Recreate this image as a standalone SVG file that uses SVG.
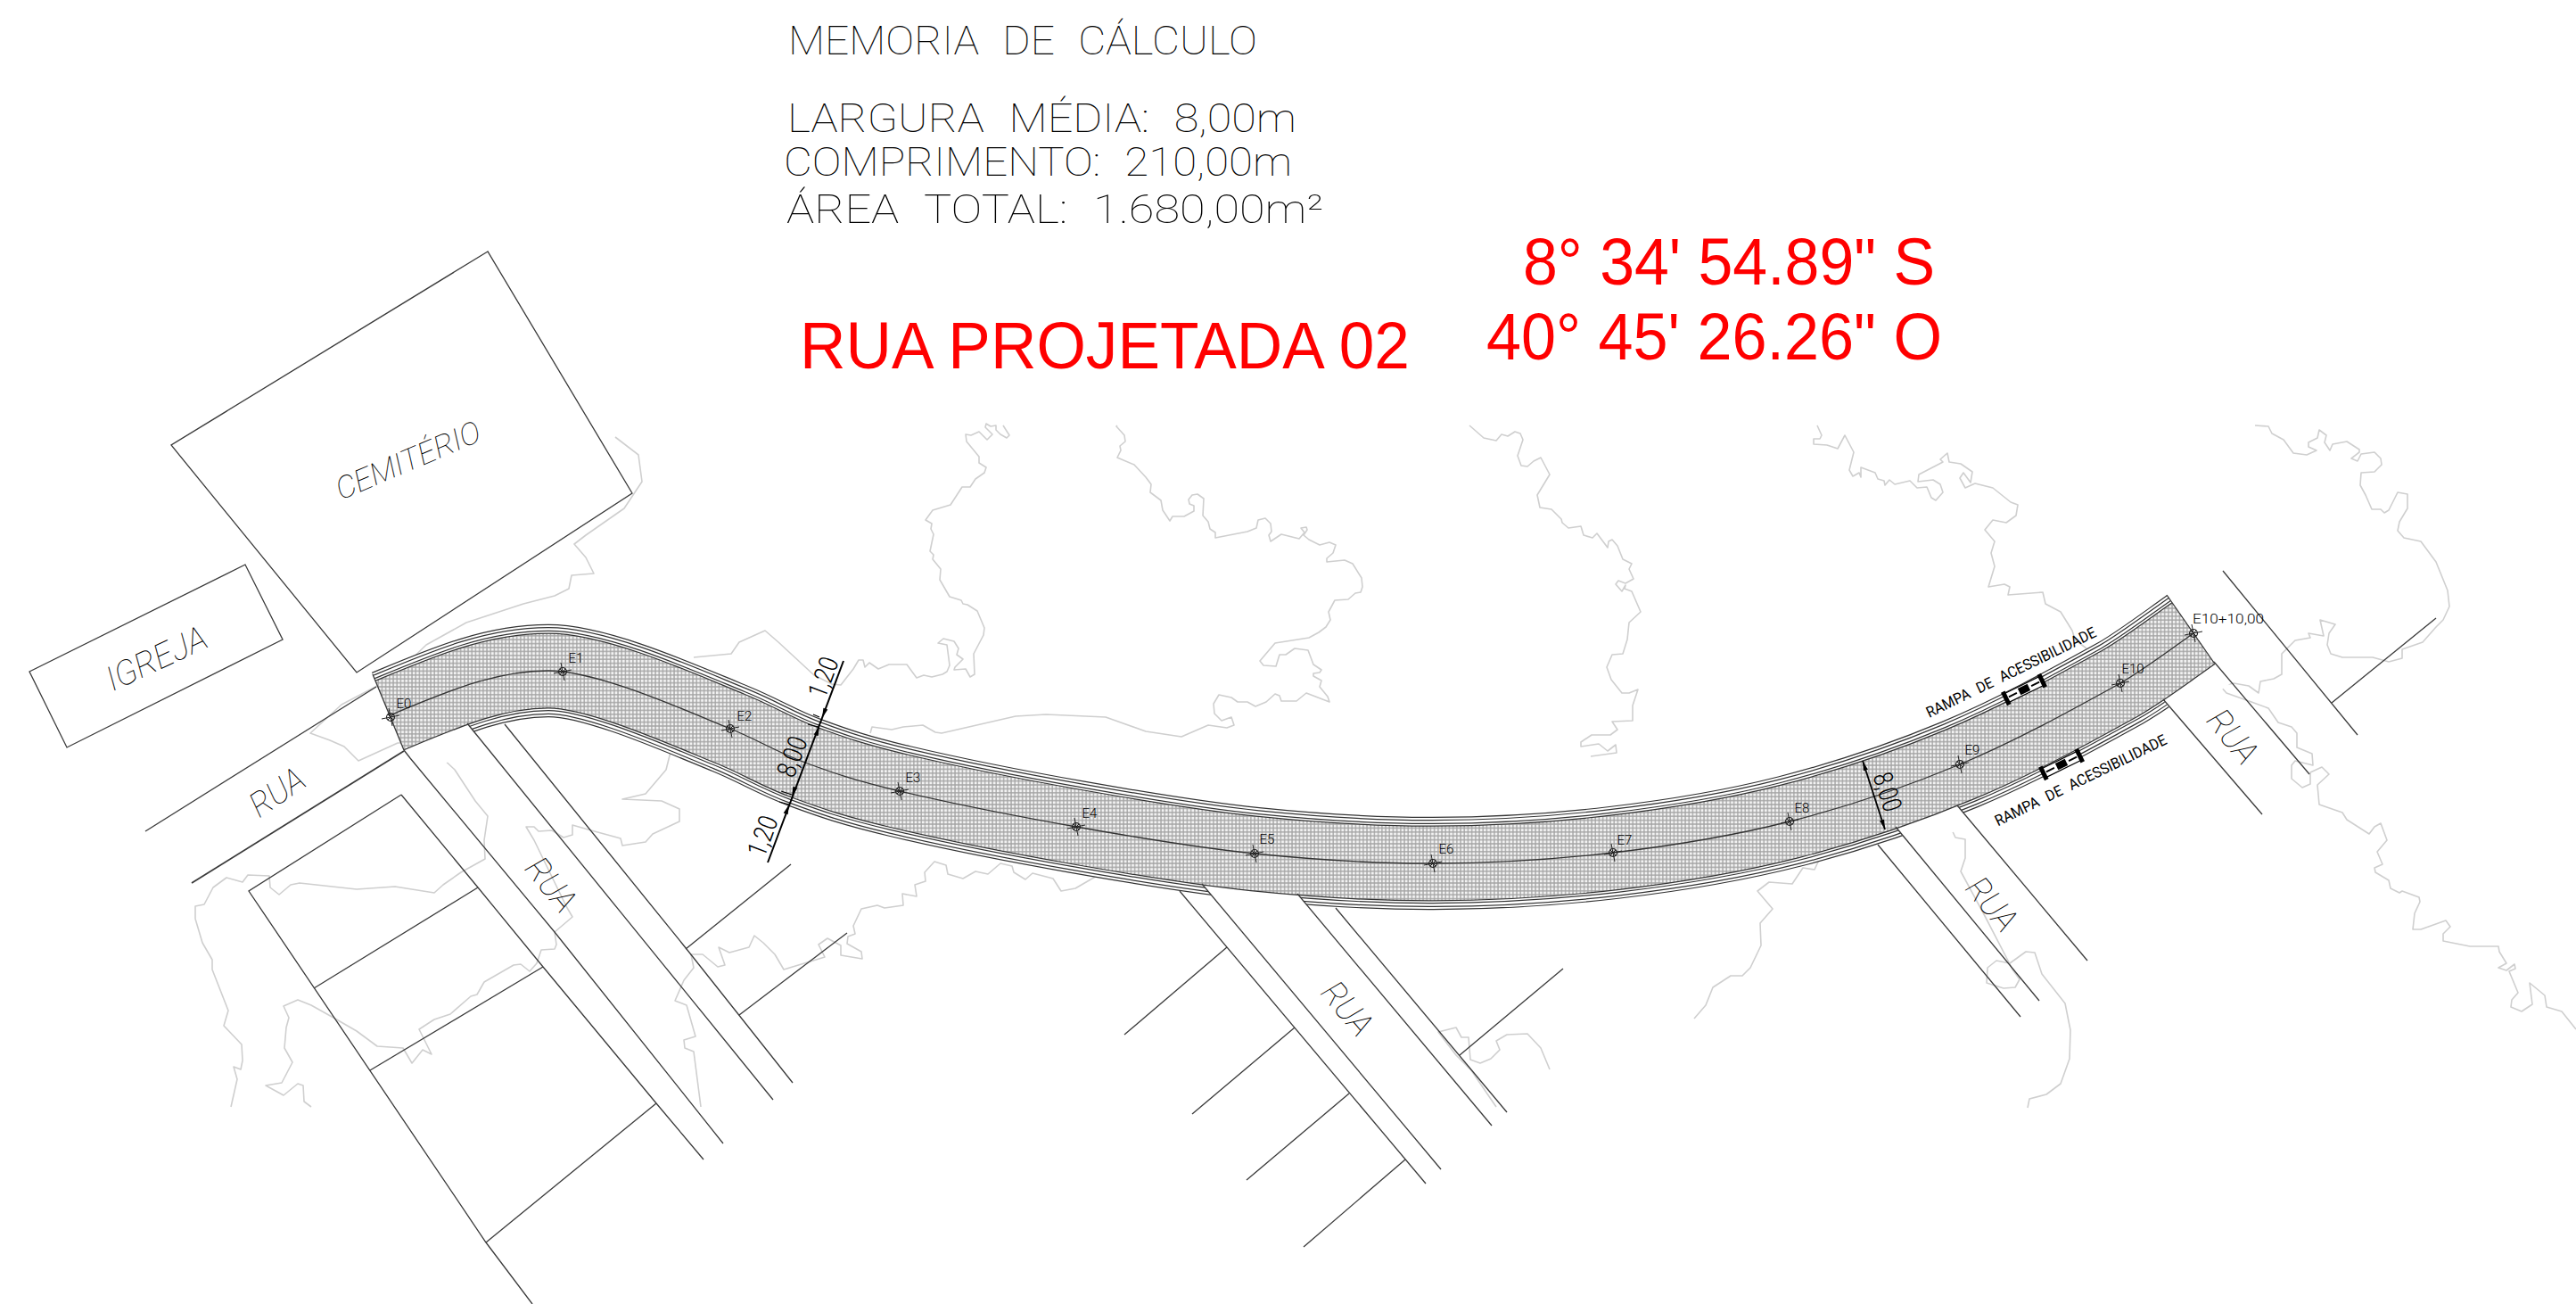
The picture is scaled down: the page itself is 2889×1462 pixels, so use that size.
<svg xmlns="http://www.w3.org/2000/svg" width="2889" height="1462" viewBox="0 0 2889 1462">
<style>
text{font-family:"Roboto","Liberation Sans",sans-serif;font-weight:100;fill:#000}
.cad{font-style:italic;text-anchor:middle}
.red{font-family:"Liberation Sans",Arial,sans-serif;font-weight:400;fill:#f00;font-size:74px}
.memo{font-size:45px;word-spacing:14px}
.st{font-size:15px;text-anchor:middle;font-weight:300}
.dim{font-size:30px;text-anchor:middle;font-weight:300}
.ramp{font-size:17px;text-anchor:middle;font-weight:400;word-spacing:6px}
.ter{fill:none;stroke:#cfcfcf;stroke-width:1.6;stroke-linejoin:round}
.ln{fill:none;stroke:#3a3a3a;stroke-width:1.3}
.rd{fill:none}
</style>
<defs>
<pattern id="hatch" patternUnits="userSpaceOnUse" width="4.2" height="4.4">
<rect width="4.2" height="4.4" fill="#a4a4a4"/><rect x="0.7" y="0.7" width="2.9" height="3" fill="#f2f2f2"/>
</pattern>
<g id="sta"><circle r="4.5" fill="none" stroke="#222" stroke-width="1.1"/><path d="M-2 -10L2 10M-10 2L10 -2M-3 -3L3 3M-3 3L3 -3" stroke="#222" stroke-width="1" fill="none"/></g>
<path id="ah" d="M0 0L-11 -2.6L-11 2.6Z" fill="#000"/>
<g id="ramp"><rect x="-22" y="-5.5" width="44" height="11" fill="#fff" stroke="#000" stroke-width="1.2"/><rect x="-25" y="-8" width="5" height="16" fill="#000"/><rect x="20" y="-8" width="5" height="16" fill="#000"/><rect x="-6" y="-4" width="12" height="8" fill="#000"/><path d="M-19 0H-9M9 0H19" stroke="#000" stroke-width="2"/></g>
<path id="cl" d="M437 802C502 775 555 752 615 752C670 752 765 795 819 817C852 830.5 871.3 843.3 903 855C934.7 866.7 958.3 875 1009 887C1059.7 899 1140.7 915.3 1207 927C1273.3 938.7 1340.3 950.2 1407 957C1473.7 963.8 1540 968.2 1607 968C1674 967.8 1742.3 963.8 1809 956C1875.7 948.2 1942.2 937.5 2007 921C2071.8 904.5 2136.2 882.8 2198 857C2259.8 831.2 2320 798 2378 766C2404 751 2433 729 2460 710"/>
</defs>
<rect width="2889" height="1462" fill="#fff"/>
<g id="terrain">
<path class="ter" d="M1125 477L1132 488L1129 491L1122 487L1117 482L1117 477L1111 478L1106 475L1105 479L1113 487L1107 493L1098 484L1089 488L1083 487L1084 495L1098 512L1098 519L1106 524L1104 530L1094 537L1088 546L1079 546L1066 566L1046 572L1038 583L1045 587L1044 593L1047 599L1043 618L1047 622L1046 627L1055 638L1054 650L1065 669L1078 673L1080 677L1085 678L1096 685L1104 704L1103 712L1092 733L1093 756L1088 759L1083 750L1070 751L1071 748L1080 739L1073 734L1075 727L1070 719L1058 716L1052 721L1062 723L1065 746L1062 753L1057 756L1045 759L1036 757L1028 760L1017 745L997 745L985 750L975 743L970 748L968 740L963 740L957 750L943 768L933 767L913 757L873 720L858 707L829 720L820 733L778 737"/>
<path class="ter" d="M1253 477L1252 478L1261 488L1262 495L1256 500L1257 505L1253 513L1272 521L1285 535L1291 543L1290 552L1302 561L1304 572L1312 584L1315 579L1328 579L1339 573L1339 567L1334 565L1333 560L1337 555L1343 554L1350 559L1349 578L1355 585L1357 593L1363 597L1363 603L1399 596L1409 592L1411 583L1419 581L1425 587L1426 596L1423 600L1425 607L1437 599L1457 604L1463 597L1459 592L1465 591L1466 594L1462 600L1468 605L1480 611L1491 608L1498 611L1495 620L1488 626L1488 630L1508 628L1517 632L1527 648L1528 658L1526 664L1520 665L1512 672L1497 673L1490 686L1492 695L1487 703L1479 709L1468 715L1430 721L1413 741L1417 746L1431 747L1435 734L1442 734L1452 727L1467 729L1473 745L1482 751L1480 754L1473 755L1473 758L1482 763L1480 770L1489 781L1491 787L1465 777L1454 786L1437 786L1435 780L1430 778L1420 787L1408 792L1399 787L1388 787L1381 782L1367 779L1361 789L1362 800L1370 808L1381 804L1384 813L1376 816L1355 813L1325 826L1285 820L1240 804L1173 801L1139 803L1056 822L1049 821L1035 813L1013 815L1000 818L978 815L976 822"/>
<path class="ter" d="M1648 477L1664 491L1678 494L1684 487L1691 489L1699 484L1705 486L1708 493L1702 511L1706 522L1713 523L1720 517L1728 513L1738 532L1724 555L1727 569L1740 571L1751 582L1752 586L1759 592L1773 590L1776 600L1786 603L1791 598L1803 614L1804 607L1808 605L1814 612L1820 627L1830 632L1827 638L1832 649L1823 654L1815 651L1812 655L1819 663L1823 656L1822 660L1830 663L1840 686L1827 698L1825 717L1820 733L1808 734L1802 748L1807 762L1819 777L1827 777L1837 773L1831 791L1831 808L1808 809L1814 818L1806 824L1785 824L1773 832L1773 837L1793 834L1803 842L1812 835L1813 844L1784 848"/>
<path class="ter" d="M2038 477L2043 488L2041 492L2034 492L2034 498L2049 499L2061 503L2069 488L2079 507L2074 527L2078 534L2085 530L2087 535L2087 524L2103 530L2106 537L2113 539L2114 544L2119 538L2125 543L2142 539L2150 547L2161 546L2166 558L2171 561L2179 552L2176 543L2168 538L2151 540L2152 532L2179 518L2176 515L2184 508L2186 518L2199 520L2212 529L2210 541L2202 530L2198 536L2204 547L2215 542L2235 547L2255 563L2263 566L2261 578L2250 586L2235 583L2226 594L2237 607L2233 620L2237 635L2230 658L2248 655L2254 658L2252 667L2291 664L2294 677L2311 686L2324 707L2327 717L2340 727"/>
<path class="ter" d="M2529 477L2544 478L2548 486L2561 493L2572 508L2587 510L2598 505L2589 501L2589 496L2599 491L2601 482L2609 488L2607 496L2613 505L2616 498L2632 495L2646 504L2646 507L2637 514L2644 517L2648 509L2663 507L2670 514L2671 521L2663 529L2648 530L2647 544L2653 555L2660 571L2670 571L2674 575L2679 572L2689 552L2700 554L2700 570L2691 585L2689 595L2696 603L2715 607L2732 630L2745 662L2747 680L2740 695L2732 703L2717 720L2694 728L2694 738L2679 742L2661 737L2627 737L2614 733L2610 723L2612 710L2619 700L2602 695L2606 713L2589 710L2591 715L2574 718L2559 733L2559 756L2550 761L2535 764L2533 777L2522 769L2505 766L2490 769L2497 777L2525 787L2544 794L2555 810L2570 815L2576 822L2576 838L2593 845L2594 858L2574 853L2570 858L2570 873L2582 883L2591 879L2591 866L2604 860L2612 868L2599 880L2601 902L2627 911L2632 919L2657 935L2663 927L2670 923L2677 942L2666 955L2672 969L2663 973L2664 978L2679 987L2681 996L2691 1001L2694 999L2713 1006L2714 1011L2708 1024L2706 1042L2715 1042L2743 1032L2748 1039L2740 1047L2740 1055L2770 1061L2802 1061L2803 1067L2811 1080L2802 1085L2811 1088L2820 1081L2821 1086L2814 1089L2824 1113L2817 1121L2816 1129L2828 1134L2840 1126L2837 1102L2854 1116L2856 1129L2873 1134L2889 1154"/>
<path class="ter" d="M2155 920L2178 930L2187 926L2193 939L2204 941L2204 962L2199 977L2226 1027L2252 1077L2257 1087L2265 1098L2260 1107L2247 1108L2228 1102L2229 1085L2239 1077L2244 1078L2254 1080L2272 1067L2282 1068L2290 1092L2316 1125L2322 1155L2321 1187L2311 1215L2295 1227L2276 1232L2274 1242"/>
<path class="ter" d="M2045 953L2035 975L2022 973L2010 991L1984 989L1971 999L1988 1019L1974 1035L1975 1060L1963 1085L1954 1094L1941 1094L1921 1107L1913 1127L1900 1142"/>
<path class="ter" d="M1678 1241L1650 1200L1633 1183L1613 1157L1633 1152L1639 1163L1647 1163L1649 1188L1660 1192L1672 1187L1682 1177L1678 1167L1690 1160L1713 1159L1728 1175L1738 1199"/>
<path class="ter" d="M1237 978L1206 996L1190 999L1181 985L1158 979L1150 986L1137 978L1135 971L1122 968L1108 980L1094 977L1080 985L1063 980L1061 970L1048 966L1037 978L1038 988L1026 992L1028 1005L1012 1002L1013 1015L992 1018L984 1015L966 1019L957 1038L959 1047L951 1050L950 1058L966 1067L967 1075L943 1071L943 1060L928 1052L918 1059L925 1073L879 1087L869 1070L856 1057L846 1049L840 1062L818 1068L806 1062L813 1082L805 1084L788 1070L775 1070L778 1085L767 1099L757 1122L770 1127L780 1162L767 1166L768 1175L778 1179L786 1241"/>
<path class="ter" d="M752 843L747 863L724 890L698 896L742 898L762 907L762 921L732 935L724 944L698 948L696 940L663 931L642 925L642 936L632 939L619 931L604 932L599 927L590 927L599 942L635 1016L642 1028L622 1045L624 1059L622 1064L607 1065L602 1080L594 1089L584 1081L576 1082L543 1101L535 1115L528 1117L505 1137L487 1143L470 1154L484 1182L474 1177L462 1192L452 1175L423 1173L400 1156L374 1141L349 1127L334 1121L318 1128L324 1141L321 1152L319 1175L328 1191L316 1214L298 1217L318 1228L334 1215L340 1217L341 1235L349 1241"/>
<path class="ter" d="M690 490L716 510L720 540L700 570L657 600L644 610L657 625L666 643L641 645L638 660L622 668L587 677L523 698L478 723L440 760L383 790L348 822L370 830L386 837L402 853L446 833L478 833L510 863L533 898L547 915L543 942L544 963L517 978L497 992L487 1001L443 994L400 997L336 990L326 992L313 1003L303 995L302 982L278 981L272 989L254 984L239 995L229 1014L219 1016L219 1030L227 1057L238 1076L238 1087L256 1133L251 1150L271 1171L272 1189L270 1199L262 1196L266 1210L259 1241"/>
</g>
<g id="sidewalks">
<use href="#cl" class="rd" stroke="#333" stroke-width="104.4"/>
<use href="#cl" class="rd" stroke="#fff" stroke-width="102"/>
<use href="#cl" class="rd" stroke="#333" stroke-width="98"/>
<use href="#cl" class="rd" stroke="#fff" stroke-width="95.6"/>
<use href="#cl" class="rd" stroke="#333" stroke-width="90.4"/>
<use href="#cl" class="rd" stroke="#fff" stroke-width="88"/>
</g>
<g id="street-openings" fill="#fff">
<polygon points="510,794 548,841 450,870 440,840"/>
<polygon points="1340,981 1366,1013 1473,1024 1445,990"/>
<polygon points="2118,917 2140,945 2215,927 2187,893"/>
<polygon points="2415,773 2445,807 2510,760 2475,725"/>
</g>
<g id="pavement">
<use href="#cl" class="rd" stroke="#333" stroke-width="85"/>
<use href="#cl" class="rd" stroke="url(#hatch)" stroke-width="82.6"/>
<use href="#cl" class="rd" stroke="#333" stroke-width="1.3"/>
</g>
<g id="linework" class="ln">
<path d="M547 282L192 499L400 754L709 553Z"/>
<path d="M275 633L33 753L75 838L317 717Z"/>
<path d="M418 756L453 841"/><path d="M2430 667L2483 743"/>
<path d="M163 932L422 770"/><path d="M215 990L453 842" stroke-width="1.8"/>
<path d="M450 891L279 999L545 1393L597 1462"/><path d="M450 891L536 995L609 1084L736 1237L789 1300"/>
<path d="M453 841L460 850L622 1045L811 1282"/>
<path d="M524 811L867 1233"/><path d="M566 812L770 1064L889 1214"/>
<path d="M536 995L352 1108"/><path d="M609 1084L415 1200"/><path d="M736 1237L545 1393"/>
<path d="M769 1064L887 969"/><path d="M829 1138L950 1046"/>
<path d="M1323 999L1599 1327"/><path d="M1348 991L1616 1311"/><path d="M1455 1002L1673 1262"/><path d="M1498 1018L1690 1247"/>
<path d="M1376 1062L1261 1160"/><path d="M1452 1152L1337 1249"/><path d="M1513 1226L1398 1323"/><path d="M1576 1300L1462 1398"/><path d="M1637 1183L1753 1086"/>
<path d="M2106 947L2266 1140"/><path d="M2126 927L2287 1122"/><path d="M2195 903L2341 1077"/>
<path d="M2426 784L2537 913"/><path d="M2483 742L2590 868"/><path d="M2493 640L2644 824"/><path d="M2615 788L2732 693"/>
</g>
<g id="stations">
<use href="#sta" x="438" y="804"/><use href="#sta" x="631" y="753"/><use href="#sta" x="819" y="817"/><use href="#sta" x="1009" y="887"/><use href="#sta" x="1207" y="927"/><use href="#sta" x="1407" y="957"/><use href="#sta" x="1607" y="968"/><use href="#sta" x="1809" y="956"/><use href="#sta" x="2007" y="921"/><use href="#sta" x="2198" y="857"/><use href="#sta" x="2378" y="766"/><use href="#sta" x="2460" y="710"/>
<text class="st" x="453" y="794">E0</text><text class="st" x="646" y="743">E1</text><text class="st" x="835" y="808">E2</text><text class="st" x="1024" y="877">E3</text><text class="st" x="1222" y="917">E4</text><text class="st" x="1421" y="946">E5</text><text class="st" x="1622" y="957">E6</text><text class="st" x="1822" y="947">E7</text><text class="st" x="2021" y="911">E8</text><text class="st" x="2212" y="846">E9</text><text class="st" x="2392" y="755">E10</text><text class="st" x="2499" y="699" textLength="80" lengthAdjust="spacingAndGlyphs">E10+10,00</text>
</g>
<g id="ramps">
<use href="#ramp" transform="translate(2270 773) rotate(-26)"/>
<use href="#ramp" transform="translate(2312 857) rotate(-26)"/>
<text class="ramp" transform="translate(2258 759) rotate(-26)" textLength="210" lengthAdjust="spacingAndGlyphs">RAMPA DE ACESSIBILIDADE</text>
<text class="ramp" transform="translate(2336 880) rotate(-26)" textLength="212" lengthAdjust="spacingAndGlyphs">RAMPA DE ACESSIBILIDADE</text>
</g>
<g id="dimensions">
<path d="M946 741L861 967" stroke="#000" stroke-width="2" fill="none"/>
<path d="M912 801L919 804M906 812L918 815M876 887L888 891M874 899L885 902" stroke="#000" stroke-width="1.2" fill="none"/>
<use href="#ah" transform="translate(922 805) rotate(110.6)"/><use href="#ah" transform="translate(919 814) rotate(-69.4)"/><use href="#ah" transform="translate(888 893) rotate(110.6)"/><use href="#ah" transform="translate(885 902) rotate(-69.4)"/>
<text class="dim" transform="translate(933 763) rotate(-69.4)" textLength="46" lengthAdjust="spacingAndGlyphs">1,20</text>
<text class="dim" transform="translate(865 941) rotate(-69.4)" textLength="46" lengthAdjust="spacingAndGlyphs">1,20</text>
<text class="dim" transform="translate(898 852) rotate(-69.4)" textLength="46" lengthAdjust="spacingAndGlyphs">8,00</text>
<path d="M2089 853L2114 930" stroke="#000" stroke-width="1.8" fill="none"/>
<use href="#ah" transform="translate(2089 853) rotate(-108)"/><use href="#ah" transform="translate(2114 930) rotate(72)"/>
<text class="dim" transform="translate(2107 891) rotate(72)" textLength="44" lengthAdjust="spacingAndGlyphs">8,00</text>
</g>
<g id="labels">
<text class="cad" font-size="34" transform="translate(462 527) rotate(-23)" textLength="173" lengthAdjust="spacingAndGlyphs">CEMITÉRIO</text>
<text class="cad" font-size="38" transform="translate(181 750) rotate(-25)" textLength="120" lengthAdjust="spacingAndGlyphs">IGREJA</text>
<text class="cad" font-size="38" transform="translate(318 899) rotate(-34)" textLength="66" lengthAdjust="spacingAndGlyphs">RUA</text>
<text class="cad" font-size="38" transform="translate(608 1000) rotate(51)" textLength="66" lengthAdjust="spacingAndGlyphs">RUA</text>
<text class="cad" font-size="38" transform="translate(1501 1139) rotate(50)" textLength="66" lengthAdjust="spacingAndGlyphs">RUA</text>
<text class="cad" font-size="38" transform="translate(2224 1022) rotate(50)" textLength="66" lengthAdjust="spacingAndGlyphs">RUA</text>
<text class="cad" font-size="38" transform="translate(2494 834) rotate(51)" textLength="66" lengthAdjust="spacingAndGlyphs">RUA</text>
</g>
<g id="memoria">
<text class="memo" x="884" y="61" textLength="526" lengthAdjust="spacingAndGlyphs">MEMORIA DE CÁLCULO</text>
<text class="memo" x="883" y="148" textLength="571" lengthAdjust="spacingAndGlyphs">LARGURA MÉDIA: 8,00m</text>
<text class="memo" x="879" y="197" textLength="570" lengthAdjust="spacingAndGlyphs">COMPRIMENTO: 210,00m</text>
<text class="memo" x="882" y="250" textLength="602" lengthAdjust="spacingAndGlyphs">ÁREA TOTAL: 1.680,00m²</text>
</g>
<g id="title">
<text class="red" x="1708" y="319" textLength="462" lengthAdjust="spacingAndGlyphs">8° 34' 54.89" S</text>
<text class="red" x="1667" y="403" textLength="511" lengthAdjust="spacingAndGlyphs">40° 45' 26.26" O</text>
<text class="red" x="897" y="413" textLength="684" lengthAdjust="spacingAndGlyphs">RUA PROJETADA 02</text>
</g>
</svg>
